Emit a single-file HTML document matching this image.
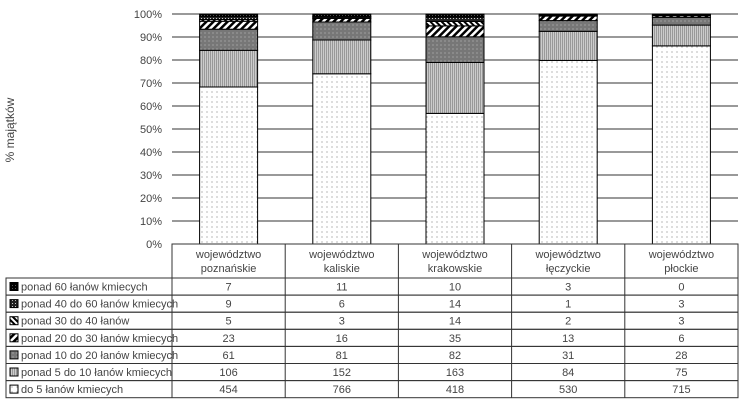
<!DOCTYPE html>
<html><head><meta charset="utf-8"><style>
body{margin:0;background:#fff;font-family:"Liberation Sans",sans-serif;}
svg text{font-family:"Liberation Sans",sans-serif;fill:#444;}
</style></head><body>
<svg id="c" width="743" height="402" viewBox="0 0 743 402">
<defs>
<pattern id="p0" width="5" height="5" patternUnits="userSpaceOnUse"><rect width="5" height="5" fill="#fff"/><circle cx="2" cy="2" r="0.6" fill="#888"/></pattern>
<pattern id="p1" width="2" height="2" patternUnits="userSpaceOnUse"><rect width="2" height="2" fill="#ccc"/><rect width="1" height="2" fill="#999"/></pattern>
<pattern id="p2" width="4" height="4" patternUnits="userSpaceOnUse"><rect width="4" height="4" fill="#777"/><circle cx="1" cy="1" r="0.6" fill="#bbb"/></pattern>
<pattern id="p3" width="5" height="5" patternUnits="userSpaceOnUse" patternTransform="rotate(45)"><rect width="5" height="5" fill="#fff"/><rect width="2.5" height="5" fill="#000"/></pattern>
<pattern id="p4" width="4" height="4" patternUnits="userSpaceOnUse" patternTransform="rotate(-45)"><rect width="4" height="4" fill="#fff"/><rect width="2" height="4" fill="#000"/></pattern>
<pattern id="p5" width="3" height="3" patternUnits="userSpaceOnUse"><rect width="3" height="3" fill="#222"/><rect width="1" height="1" fill="#ccc"/></pattern>
<pattern id="p6" width="3" height="3" patternUnits="userSpaceOnUse"><rect width="3" height="3" fill="#000"/><rect width="1" height="1" fill="#555"/></pattern>
</defs>
<text x="14" y="130" font-size="12" transform="rotate(-90 14 130)" text-anchor="middle">% majątków</text>
<g id="g"></g>
</svg>
<script>
const categories=[["województwo","poznańskie"],["województwo","kaliskie"],["województwo","krakowskie"],["województwo","łęczyckie"],["województwo","płockie"]];
const seriesNames=["do 5 łanów kmiecych","ponad 5 do 10 łanów kmiecych","ponad 10 do 20 łanów kmiecych","ponad 20 do 30 łanów kmiecych","ponad 30 do 40 łanów","ponad 40 do 60 łanów kmiecych","ponad 60 łanów kmiecych"];
const s0=[454,766,418,530,715];
const s1=[106,152,163,84,75];
const s2=[61,81,82,31,28];
const s3=[23,16,35,13,6];
const s4=[5,3,14,2,3];
const s5=[9,6,14,1,3];
const s6=[7,11,10,3,0];
const yTicks=["0%","10%","20%","30%","40%","50%","60%","70%","80%","90%","100%"];
const series=[s0,s1,s2,s3,s4,s5,s6];
const NS="http://www.w3.org/2000/svg";
const g=document.getElementById('g');
const x0=172,x1=738,yTop=14,yBot=244,colW=(x1-x0)/categories.length,barW=58;
const yS=p=>yBot-(yBot-yTop)*p;
function mk(t,a,p){const e=document.createElementNS(NS,t);for(const k in a)e.setAttribute(k,a[k]);(p||g).appendChild(e);return e;}
yTicks.forEach((t,i)=>{const y=yS(i/10);
 const l=mk('line',{x1:x0,x2:x1,y1:y,y2:y,stroke:'#333','stroke-width':1});
 
 
 const tx=mk('text',{x:x0-10,y:y+4,'font-size':11,'text-anchor':'end'});tx.textContent=t;
 
 
});
categories.forEach((c,ci)=>{
 const tot=series.reduce((a,s)=>a+s[ci],0);let cum=0;
 const bx=x0+colW*ci+(colW-barW)/2;
 series.forEach((s,si)=>{const v=s[ci]/tot;if(v<=0)return;
  const yA=yS(cum+v),yB=yS(cum);cum+=v;
  const r=mk('rect',{x:bx,y:yA,width:barW,height:yB-yA,fill:'url(#p'+si+')',stroke:'#000','stroke-width':1});
  
  
 });
});
// table
const rowTop=278,rowH=17.1,tabL=6;
mk('rect',{x:x0,y:yBot,width:x1-x0,height:rowTop-yBot,fill:'none',stroke:'#333'});
categories.forEach((c,ci)=>{const cx=x0+colW*(ci+0.5);
 mk('line',{x1:x0+colW*ci,x2:x0+colW*ci,y1:yBot,y2:rowTop+rowH*7,stroke:'#333'});
 c.forEach((t,k)=>{const tx=mk('text',{x:cx,y:258+k*14,'font-size':11,'text-anchor':'middle'});tx.textContent=t;
  
  });
});
mk('line',{x1:x1,x2:x1,y1:yBot,y2:rowTop+rowH*7,stroke:'#333'});
const order=[6,5,4,3,2,1,0];
order.forEach((si,ri)=>{const y=rowTop+ri*rowH;
 mk('rect',{x:tabL,y:y,width:x1-tabL,height:rowH,fill:'none',stroke:'#333'});
 const sw=mk('rect',{x:tabL+4,y:y+4.5,width:8,height:8,fill:'url(#p'+si+')',stroke:'#000'});
 
 
 const lt=mk('text',{x:tabL+15,y:y+12.5,'font-size':11});lt.textContent=seriesNames[si];
 
 
 series[si].forEach((v,ci)=>{const t=mk('text',{x:x0+colW*(ci+0.5),y:y+12.5,'font-size':11,'text-anchor':'middle'});t.textContent=v;
  
  });
});
mk('line',{x1:x0,x2:x0,y1:yBot,y2:rowTop,stroke:'#333'});
</script>
</body></html>
